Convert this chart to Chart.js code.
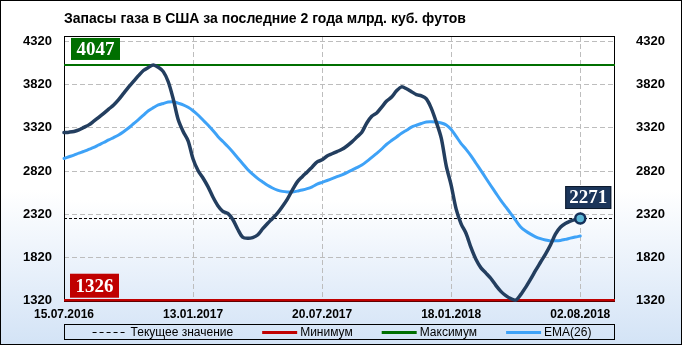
<!DOCTYPE html>
<html><head><meta charset="utf-8">
<script src="https://cdn.jsdelivr.net/npm/chart.js@4"></script>
<style>html,body{margin:0;padding:0;background:#fff}#wrap{width:682px;height:345px;position:relative}</style>
</head><body><div id="wrap"><canvas id="c" width="682" height="345"></canvas></div>
<script>
const chartTitle = 'Запасы газа в США за последние 2 года млрд. куб. футов';
const dateLabels = ['15.07.2016','13.01.2017','20.07.2017','18.01.2018','02.08.2018'];
const dateLabelWeeks = [0,26,52,78,104];
const yTickValues = [1320,1820,2320,2820,3320,3820,4320];
const legendNames = ['Текущее значение','Минимум','Максимум','EMA(26)'];
const storage = [3265,3270,3278,3296,3325,3354,3397,3441,3487,3536,
 3584,3646,3718,3790,3857,3923,3983,4018,4047,4020,
 3970,3853,3655,3415,3277,3170,2960,2826,2740,2640,
 2520,2420,2355,2330,2260,2147,2055,2042,2050,2080,
 2150,2214,2272,2333,2410,2496,2600,2695,2755,2810,
 2868,2926,2950,2994,3020,3045,3071,3110,3157,3213,
 3270,3376,3453,3492,3560,3629,3676,3748,3794,3772,
 3738,3704,3690,3655,3545,3385,3200,2880,2655,2380,
 2210,2098,1933,1796,1700,1640,1577,1498,1428,1380,
 1345,1326,1390,1475,1570,1670,1765,1860,1965,2090,
 2170,2212,2240,2258,2271];
const ema26 = [2965,2985,3005,3027,3047,3070,3093,3122,3150,3180,
 3207,3237,3275,3318,3367,3415,3466,3518,3553,3584,
 3602,3618,3622,3605,3586,3557,3518,3468,3410,3353,
 3289,3221,3161,3103,3040,2972,2905,2838,2784,2735,
 2694,2655,2624,2600,2585,2578,2577,2588,2600,2616,
 2638,2668,2690,2711,2733,2755,2777,2802,2830,2860,
 2890,2932,2978,3024,3075,3130,3173,3214,3257,3292,
 3328,3350,3370,3387,3389,3386,3376,3354,3300,3220,
 3138,3070,2995,2910,2825,2737,2650,2565,2481,2405,
 2328,2250,2174,2126,2090,2060,2038,2022,2012,2013,
 2018,2030,2044,2057,2068];
const maxValue = 4047;
const minValue = 1326;
const currentValue = 2271;

const X_MAX = 111;
const C_DARK = '#233e5f';
const C_EMA = '#3ea2f7';
const C_RED = '#c00000';
const C_GREEN = '#006f00';

const toXY = arr => arr.map((v, i) => ({x: i, y: v}));
const hLine = v => [{x: 0, y: v}, {x: X_MAX, y: v}];
const lastIdx = storage.length - 1;

function box(ctx, x, y, w, h, fill, text, stroke) {
  ctx.save();
  ctx.fillStyle = fill;
  ctx.fillRect(x, y, w, h);
  if (stroke) { ctx.strokeStyle = stroke; ctx.lineWidth = 1; ctx.strokeRect(x + 0.5, y + 0.5, w - 1, h - 1); }
  ctx.fillStyle = '#ffffff';
  ctx.font = 'bold 19px "Liberation Serif", serif';
  ctx.textAlign = 'center';
  ctx.textBaseline = 'middle';
  ctx.fillText(text, x + w / 2, y + h / 2 + 1);
  ctx.restore();
}

const deco = {
  id: 'deco',
  beforeDraw(chart) {
    const {ctx, width, height, chartArea: a} = chart;
    ctx.save();
    let g = ctx.createLinearGradient(0, 0, 0, height);
    g.addColorStop(0, '#ffffff'); g.addColorStop(0.55, '#ffffff'); g.addColorStop(1, '#d3e3f6');
    ctx.fillStyle = g; ctx.fillRect(0, 0, width, height);
    g = ctx.createLinearGradient(0, a.top, 0, a.bottom);
    g.addColorStop(0, '#ffffff'); g.addColorStop(0.62, '#ffffff'); g.addColorStop(1, '#e0ebf9');
    ctx.fillStyle = g; ctx.fillRect(a.left, a.top, a.right - a.left, a.bottom - a.top);
    ctx.restore();
  },
  beforeDatasetsDraw(chart) {
    const {ctx, chartArea: a} = chart;
    ctx.save();
    ctx.strokeStyle = '#000'; ctx.lineWidth = 1;
    ctx.strokeRect(a.left + 0.5, a.top + 0.5, a.right - a.left - 1, a.bottom - a.top);
    ctx.restore();
  },
  afterDatasetsDraw(chart) {
    const {ctx, chartArea: a, scales} = chart;
    const yMax = scales.y.getPixelForValue(maxValue);
    const yMin = scales.y.getPixelForValue(minValue);
    box(ctx, a.left + 7, yMax - 27, 49, 22, C_GREEN, String(maxValue));
    box(ctx, a.left + 6, yMin - 26.5, 49, 24, C_RED, String(minValue));
    const px = scales.x.getPixelForValue(lastIdx);
    const py = scales.y.getPixelForValue(currentValue);
    box(ctx, px - 15, py - 32.5, 46, 23, '#1b355a', String(currentValue), '#0d1a2c');
  },
  afterDraw(chart) {
    const {ctx, width, height, chartArea: a} = chart;
    ctx.save();
    const top = 324.5, h = 15, cy = top + h / 2 + 0.5;
    ctx.strokeStyle = '#000'; ctx.lineWidth = 1;
    ctx.strokeRect(a.left + 0.5, top, a.right - a.left - 1, h);
    ctx.font = '12px "Liberation Sans", Arial, sans-serif';
    ctx.textBaseline = 'middle';
    ctx.textAlign = 'left';
    const lineW = 35, tGap = 3, iGap = 29;
    const styles = [
      {c: '#000', w: 1, d: [4, 3]},
      {c: C_RED, w: 3, d: []},
      {c: C_GREEN, w: 3, d: []},
      {c: C_EMA, w: 3, d: []}
    ];
    let total = 0;
    const widths = legendNames.map(t => ctx.measureText(t).width);
    widths.forEach(w => total += lineW + tGap + w);
    total += iGap * (legendNames.length - 1);
    let x = 342 - total / 2;
    legendNames.forEach((t, i) => {
      const s = styles[i];
      ctx.beginPath();
      ctx.setLineDash(s.d);
      ctx.strokeStyle = s.c; ctx.lineWidth = s.w;
      ctx.moveTo(x, cy); ctx.lineTo(x + lineW, cy); ctx.stroke();
      ctx.setLineDash([]);
      ctx.fillStyle = '#000';
      ctx.fillText(t, x + lineW + tGap, cy);
      x += lineW + tGap + widths[i] + iGap;
    });
    ctx.strokeStyle = '#000'; ctx.lineWidth = 1;
    ctx.strokeRect(0.5, 0.5, width - 1, height - 1);
    ctx.restore();
  }
};

const yTickCfg = pad => ({
  padding: pad,
  color: '#000',
  font: {family: '"Liberation Sans", Arial, sans-serif', size: 13, weight: 'bold'},
  callback: v => String(v)
});

new Chart(document.getElementById('c'), {
  type: 'line',
  data: {
    datasets: [
      {label: 'Storage', data: toXY(storage), borderColor: C_DARK, borderWidth: 3.5,
        tension: 0.3, borderJoinStyle: 'round', borderCapStyle: 'round',
        pointRadius: ctx => ctx.dataIndex === lastIdx ? 5 : 0,
        pointBackgroundColor: '#5cb8d8', pointBorderColor: '#14305a', pointBorderWidth: 2.5},
      {label: legendNames[3], data: toXY(ema26), borderColor: C_EMA, borderWidth: 3,
        tension: 0.3, pointRadius: 0, borderJoinStyle: 'round', borderCapStyle: 'round'},
      {label: legendNames[0], data: hLine(currentValue), borderColor: '#000', borderWidth: 1,
        borderDash: [3, 2], pointRadius: 0},
      {label: legendNames[2], data: hLine(maxValue), borderColor: C_GREEN, borderWidth: 2, pointRadius: 0},
      {label: legendNames[1], data: hLine(minValue), borderColor: C_RED, borderWidth: 2.5, pointRadius: 0}
    ]
  },
  options: {
    responsive: false,
    devicePixelRatio: 1,
    animation: false,
    clip: false,
    layout: {padding: {top: 4, left: 0, right: 0, bottom: 20}},
    plugins: {
      legend: {display: false},
      tooltip: {enabled: false},
      title: {
        display: true, text: chartTitle, align: 'start', fullSize: false,
        color: '#000',
        font: {family: '"Liberation Sans", Arial, sans-serif', size: 14, weight: 'bold'},
        padding: {top: 7, bottom: 8.2}
      }
    },
    scales: {
      x: {
        type: 'linear', min: 0, max: X_MAX,
        afterBuildTicks: s => { s.ticks = dateLabelWeeks.map(v => ({value: v})); },
        afterFit: s => { s.height = 24; },
        ticks: {
          padding: 6, color: '#000', maxRotation: 0, autoSkip: false,
          font: {family: '"Liberation Sans", Arial, sans-serif', size: 12, weight: 'bold'},
          callback: (v) => { const k = dateLabelWeeks.indexOf(v); return k >= 0 ? dateLabels[k] : ''; }
        },
        grid: {color: '#bdbdbd', drawTicks: false, lineWidth: 1},
        border: {display: false, dash: [5, 3]}
      },
      y: {
        position: 'left', min: 1317, max: 4382,
        afterBuildTicks: s => { s.ticks = yTickValues.map(v => ({value: v})); },
        afterFit: s => { s.width = 64; },
        ticks: yTickCfg(12),
        grid: {color: '#bdbdbd', drawTicks: false, lineWidth: 1},
        border: {display: false, dash: [5, 3]}
      },
      y2: {
        position: 'right', min: 1317, max: 4382,
        afterBuildTicks: s => { s.ticks = yTickValues.map(v => ({value: v})); },
        afterFit: s => { s.width = 67; },
        ticks: yTickCfg(13),
        grid: {display: false},
        border: {display: false}
      }
    }
  },
  plugins: [deco]
});
</script>
</body></html>
